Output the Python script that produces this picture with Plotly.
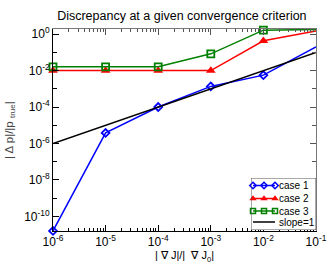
import plotly.graph_objects as go

x_vals = [1e-6, 1e-5, 1e-4, 1e-3, 1e-2, 1e-1]
case1 = [1.6e-11, 3.8e-6, 1.0e-4, 1.35e-3, 5.6e-3, 0.2]
case2 = [1.0e-2, 1.0e-2, 1.0e-2, 1.0e-2, 0.43, 1.5]
case3 = [1.6e-2, 1.6e-2, 1.6e-2, 0.083, 1.65, 1.8]
slope_x = [1e-6, 1e-1]
slope_y = [1e-6, 1e-1]

x_ticks = [1e-6, 1e-5, 1e-4, 1e-3, 1e-2, 1e-1]
x_ticktext = ["10<sup>-6</sup>", "10<sup>-5</sup>", "10<sup>-4</sup>", "10<sup>-3</sup>",
              "10<sup>-2</sup>", "10<sup>-1</sup>"]
y_ticks = [1e-10, 1e-8, 1e-6, 1e-4, 1e-2, 1e0]
y_ticktext = ["10<sup>-10</sup>", "10<sup>-8</sup>", "10<sup>-6</sup>", "10<sup>-4</sup>",
              "10<sup>-2</sup>", "10<sup>0</sup>"]
legend_names = ["case 1", "case 2", "case 3", "slope=1"]

x_minor = [m * 10 ** e for e in range(-6, -1) for m in range(2, 10)]
y_minor = [10.0 ** e for e in range(-11, 1, 2)]

colors = ["#0000ff", "#ff0000", "#008000"]
symbols = ["diamond-open", "triangle-up", "square-open"]
main_sizes = [6, 8.5, 7]
leg_sizes = [5, 6.5, 5]

fig = go.Figure()
for name, vals, c, s, ms in zip(legend_names[:3], [case1, case2, case3], colors, symbols, main_sizes):
    fig.add_trace(go.Scatter(x=x_vals, y=vals, name=name, mode="lines+markers",
                             cliponaxis=False, showlegend=False,
                             line=dict(color=c, width=1.5),
                             marker=dict(symbol=s, size=ms, color=c,
                                         line=dict(width=1.8 if "open" in s else 0, color=c))))
fig.add_trace(go.Scatter(x=slope_x, y=slope_y, name="slope=1", mode="lines",
                         line=dict(color="black", width=1.5), showlegend=False))
fig.add_trace(go.Scatter(x=[1e-6], y=[1e-6], xaxis="x2", yaxis="y2", showlegend=False,
                         mode="markers", marker=dict(opacity=0), hoverinfo="skip"))

# custom compact legend (pixel-like local axes inside legend box)
L, R, T, B = 251, 316, 178, 230
PL, PR, PT, PB = 53, 316, 29, 231
pw, ph = PR - PL, PB - PT
leg_y = [185.5, 198.5, 211, 222]
sample_x = [253, 264, 275]
for i in range(3):
    fig.add_trace(go.Scatter(x=sample_x, y=[leg_y[i]] * 3, mode="lines+markers",
                             xaxis="x3", yaxis="y3", showlegend=False, hoverinfo="skip",
                             cliponaxis=False, line=dict(color=colors[i], width=1.5),
                             marker=dict(symbol=symbols[i], size=leg_sizes[i], color=colors[i],
                                         line=dict(width=1.5 if "open" in symbols[i] else 0,
                                                   color=colors[i]))))
fig.add_trace(go.Scatter(x=[sample_x[0], sample_x[-1]], y=[leg_y[3]] * 2, mode="lines",
                         xaxis="x3", yaxis="y3", showlegend=False, hoverinfo="skip",
                         line=dict(color="black", width=1.5)))

annotations = [dict(x=277, y=leg_y[i], xref="x3", yref="y3", text=legend_names[i],
                    showarrow=False, xanchor="left", yanchor="middle",
                    font=dict(size=10, color="black")) for i in range(4)]
annotations.append(dict(x=(10 - PL) / pw, y=0.5, xref="paper", yref="paper",
                        text="| Δ p|/|p <sub>true</sub>|", showarrow=False, textangle=-90,
                        xanchor="center", yanchor="middle",
                        font=dict(size=11.5, color="#444")))

font = "Liberation Sans, Arial, sans-serif"
fig.update_layout(
    width=332, height=265,
    margin=dict(l=PL, r=332 - PR, t=PT, b=265 - PB, autoexpand=False),
    paper_bgcolor="white", plot_bgcolor="white",
    font=dict(family=font, size=12, color="black"),
    title=dict(text="Discrepancy at a given convergence criterion", xref="paper", x=0.49,
               xanchor="center", y=0.94, yanchor="middle", font=dict(size=12.5)),
    xaxis=dict(type="log", range=[-6, -1], showgrid=False, zeroline=False, automargin=False,
               showline=True, linecolor="black", linewidth=1,
               tickmode="array", tickvals=x_ticks, ticktext=x_ticktext,
               ticks="inside", ticklen=6, tickcolor="black", ticklabeloverflow="allow",
               minor=dict(tickmode="array", tickvals=x_minor, ticks="inside", ticklen=3,
                          tickcolor="black"),
               title=dict(text="| ∇ J|/|  ∇ J<sub>0</sub>|", standoff=2, font=dict(size=11))),
    yaxis=dict(type="log", range=[-10.8, 0.28], showgrid=False, zeroline=False, automargin=False,
               showline=True, linecolor="black", linewidth=1,
               tickmode="array", tickvals=y_ticks, ticktext=y_ticktext,
               ticks="inside", ticklen=6, tickcolor="black",
               minor=dict(tickmode="array", tickvals=y_minor, ticks="inside", ticklen=4,
                          tickcolor="black")),
    xaxis2=dict(type="log", range=[-6, -1], overlaying="x", side="top", showgrid=False,
                zeroline=False, showline=True, linecolor="#777", linewidth=1, automargin=False,
                tickmode="array", tickvals=x_ticks, showticklabels=False,
                ticks="inside", ticklen=6, tickcolor="#555",
                minor=dict(tickmode="array", tickvals=x_minor, ticks="inside", ticklen=3,
                           tickcolor="#555")),
    yaxis2=dict(type="log", range=[-10.8, 0.28], overlaying="y", side="right", showgrid=False,
                zeroline=False, showline=True, linecolor="#777", linewidth=1, automargin=False,
                tickmode="array", tickvals=y_ticks, showticklabels=False,
                ticks="inside", ticklen=6, tickcolor="#555",
                minor=dict(tickmode="array", tickvals=y_minor, ticks="inside", ticklen=4,
                           tickcolor="#555")),
    xaxis3=dict(domain=[(L - PL) / pw, 1.0], range=[L, R], visible=False, fixedrange=True,
                anchor="y3", automargin=False),
    yaxis3=dict(domain=[(PB - B) / ph, (PB - T) / ph], range=[B, T], visible=False,
                fixedrange=True, anchor="x3", automargin=False),
    shapes=[dict(type="rect", xref="x3", yref="y3", x0=L, x1=R, y0=B, y1=T,
                 line=dict(color="#555", width=1), fillcolor="rgba(0,0,0,0)", layer="above")],
    annotations=annotations,
    showlegend=False,
)

fig.write_html("out.html", config={"displayModeBar": False},
               post_script="document.body.style.margin='0';document.body.style.padding='0';"
                           "document.documentElement.style.overflow='hidden';")
